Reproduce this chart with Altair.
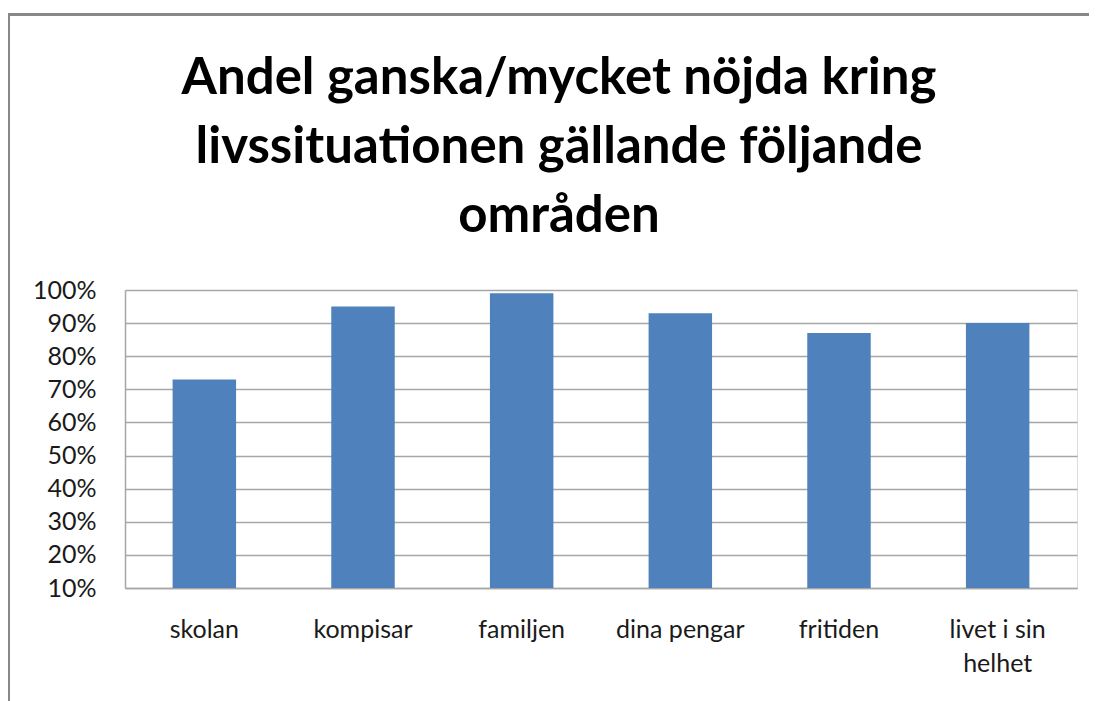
import altair as alt
import pandas as pd

categories = ["skolan", "kompisar", "familjen", "dina pengar", "fritiden", "livet i sin helhet"]
values = [0.73, 0.95, 0.99, 0.93, 0.87, 0.90]
y_ticks = [0.1, 0.2, 0.3, 0.4, 0.5, 0.6, 0.7, 0.8, 0.9, 1.0]
title_lines = ["Andel ganska/mycket nöjda kring", "livssituationen gällande följande", "områden"]

df = pd.DataFrame({"kategori": categories, "andel": values})

FONT = "Lato"

bars = alt.Chart(df).mark_bar(color="#4F81BD").encode(
    x=alt.X(
        "kategori:N",
        sort=None,
        title=None,
        scale=alt.Scale(paddingInner=0.6, paddingOuter=0.3),
        axis=alt.Axis(
            labelAngle=0,
            labelFontSize=25,
            labelFont=FONT,
            labelColor="#1a1a1a",
            labelPadding=29,
            labelLineHeight=34,
            labelExpr="datum.label == 'livet i sin helhet' ? ['livet i sin', 'helhet'] : datum.label",
            ticks=False,
            domain=True,
            domainColor="#A6A6A6",
            domainWidth=1.5,
            grid=False,
        ),
    ),
    y=alt.Y(
        "andel:Q",
        title=None,
        scale=alt.Scale(domain=[0.1, 1.0], zero=False, nice=False),
        axis=alt.Axis(
            values=y_ticks,
            format=".0%",
            labelFontSize=25,
            labelFont=FONT,
            labelColor="#1a1a1a",
            labelPadding=29,
            ticks=False,
            domain=True,
            domainColor="#A6A6A6",
            domainWidth=1.5,
            grid=True,
            gridColor="#A6A6A6",
            gridWidth=1.5,
        ),
    ),
    y2=alt.datum(0.1),
)

frame = alt.Chart(alt.Data(values=[{}])).mark_rule(color="#888888", strokeWidth=3).encode(
    x=alt.value(-116.5), x2=alt.value(-116.5), y=alt.value(-277), y2=alt.value(430)
)
frame_top = alt.Chart(alt.Data(values=[{}])).mark_rule(color="#888888", strokeWidth=3).encode(
    x=alt.value(-118), x2=alt.value(980), y=alt.value(-275.5), y2=alt.value(-275.5)
)

chart = alt.layer(bars, frame, frame_top).properties(
    width=952,
    height=298,
    title=alt.TitleParams(
        text=title_lines,
        font=FONT,
        fontSize=51,
        fontWeight="bold",
        color="#000000",
        lineHeight=69,
        anchor="middle",
        baseline="bottom",
        dx=-42,
        dy=282,
        offset=0,
    ),
    autosize=alt.AutoSizeParams(type="none"),
    padding={"left": 117, "top": 282, "right": 12, "bottom": 113},
).configure_view(stroke=None).configure(background="white")

chart.save("out.html", embed_options={"renderer": "svg", "actions": False})
